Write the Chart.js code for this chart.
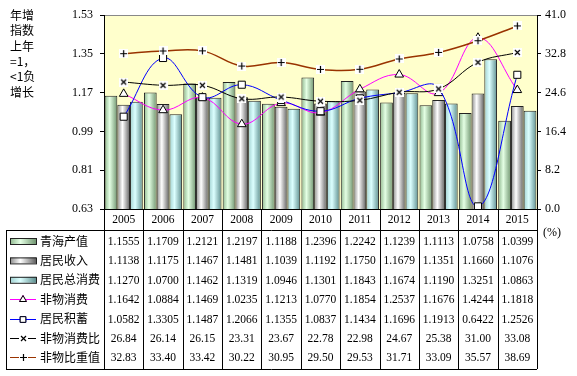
<!DOCTYPE html>
<html>
<head>
<meta charset="utf-8">
<script src="https://cdn.jsdelivr.net/npm/chart.js@4.4.0/dist/chart.umd.min.js"></script>
<style>
  html, body { margin: 0; padding: 0; background: #fff; }
  #wrap { width: 577px; height: 376px; }
</style>
</head>
<body>
<div id="wrap"><canvas id="chart" width="577" height="376"></canvas></div>
<script>
// data (table below the plot)
const years = ['2005', '2006', '2007', '2008', '2009', '2010', '2011', '2012', '2013', '2014', '2015'];
const qinghaiOutput = [1.1555, 1.1709, 1.2121, 1.2197, 1.1188, 1.2396, 1.2242, 1.1239, 1.1113, 1.0758, 1.0399];
const residentIncome = [1.1138, 1.1175, 1.1467, 1.1481, 1.1039, 1.1192, 1.1750, 1.1679, 1.1351, 1.1660, 1.1076];
const residentConsumption = [1.1270, 1.0700, 1.1462, 1.1319, 1.0946, 1.1301, 1.1843, 1.1674, 1.1190, 1.3251, 1.0863];
const nonMaterialConsumption = [1.1642, 1.0884, 1.1469, 1.0235, 1.1213, 1.0770, 1.1854, 1.2537, 1.1676, 1.4244, 1.1818];
const residentSavings = [1.0582, 1.3305, 1.1487, 1.2066, 1.1355, 1.0837, 1.1434, 1.1696, 1.1913, 0.6422, 1.2526];
const nonMaterialRatio = [26.84, 26.14, 26.15, 23.31, 23.67, 22.78, 22.98, 24.67, 25.38, 31.00, 33.08];
const nonMaterialShare = [32.83, 33.40, 33.42, 30.22, 30.95, 29.50, 29.53, 31.71, 33.09, 35.57, 38.69];

const leftTicks = [0.63, 0.81, 0.99, 1.17, 1.35, 1.53];
const rightTicks = [0, 8.2, 16.4, 24.6, 32.8, 41.0];
const axisNote = ['年增', '指数', '上年', '=1，', '<1负', '增长'];
const unitNote = '(%)';

const SERIF = '"Liberation Serif", "Times New Roman", serif';
const CJK = '"Noto Sans CJK SC", sans-serif';

// little white boxes with a black glyph, like the excel markers
function boxMarker(kind) {
  const c = document.createElement('canvas');
  c.width = 9; c.height = 9;
  const g = c.getContext('2d');
  g.fillStyle = '#fff';
  g.fillRect(0, 0, 9, 9);
  g.strokeStyle = '#000';
  g.lineWidth = 1.2;
  g.beginPath();
  if (kind === 'x') {
    g.moveTo(2, 2); g.lineTo(7, 7);
    g.moveTo(7, 2); g.lineTo(2, 7);
  } else {
    g.moveTo(4.5, 1); g.lineTo(4.5, 8);
    g.moveTo(1, 4.5); g.lineTo(8, 4.5);
  }
  g.stroke();
  return c;
}
const xMark = boxMarker('x');
const plusMark = boxMarker('+');

// cylinder-like shading for the bars
const barShades = {
  green: ['#8fb88f', '#e4ffe4', '#6f946f'],
  gray: ['#8a8a8a', '#ffffff', '#5f5f5f'],
  cyan: ['#9fcfcf', '#dcffff', '#5e8f8f']
};

const shadePlugin = {
  id: 'shade',
  beforeDatasetsDraw(chart) {
    const ctx = chart.ctx;
    chart.data.datasets.forEach((ds, i) => {
      if (!ds.shade) return;
      const s = barShades[ds.shade];
      chart.getDatasetMeta(i).data.forEach(el => {
        const g = ctx.createLinearGradient(el.x - el.width / 2, 0, el.x + el.width / 2, 0);
        g.addColorStop(0, s[0]);
        g.addColorStop(0.4, s[1]);
        g.addColorStop(1, s[2]);
        el.options = Object.assign({}, el.options, { backgroundColor: g });
      });
    });
  }
};

const plotBg = {
  id: 'plotBg',
  beforeDraw(chart) {
    const { ctx, chartArea: a } = chart;
    ctx.save();
    ctx.fillStyle = '#ffffcc';
    ctx.fillRect(a.left, a.top, a.right - a.left, a.bottom - a.top);
    ctx.strokeStyle = '#888';
    ctx.lineWidth = 1;
    ctx.beginPath();
    ctx.moveTo(a.left, a.top + 0.5);
    ctx.lineTo(a.right, a.top + 0.5);
    ctx.stroke();
    ctx.restore();
  }
};

// the data table under the plot, with its legend keys
const tablePlugin = {
  id: 'table',
  afterDraw(chart) {
    const { ctx, chartArea: a } = chart;
    const xs = chart.scales.x;
    const step = (a.right - a.left) / years.length;
    const top = 230, bottom = 369, rowH = 19.4, firstRow = 241;
    ctx.save();
    ctx.strokeStyle = '#000';
    ctx.lineWidth = 1;
    ctx.beginPath();
    ctx.moveTo(6, top + 0.5); ctx.lineTo(a.right, top + 0.5);
    ctx.moveTo(6, bottom + 0.5); ctx.lineTo(a.right, bottom + 0.5);
    ctx.moveTo(6.5, top); ctx.lineTo(6.5, bottom);
    for (let i = 0; i <= years.length; i++) {
      const x = Math.round(a.left + i * step) + 0.5;
      ctx.moveTo(x, a.bottom); ctx.lineTo(x, bottom);
    }
    ctx.stroke();

    chart.data.datasets.forEach((ds, r) => {
      const y = firstRow + r * rowH;
      // legend key
      if (ds.shade) {
        const s = barShades[ds.shade];
        const g = ctx.createLinearGradient(10, 0, 36, 0);
        g.addColorStop(0, s[0]); g.addColorStop(0.4, s[1]); g.addColorStop(1, s[2]);
        ctx.fillStyle = g;
        ctx.fillRect(10, y - 3, 26, 6);
        ctx.strokeStyle = '#222';
        ctx.strokeRect(10.5, y - 2.5, 26, 6);
      } else {
        ctx.strokeStyle = ds.borderColor;
        ctx.beginPath();
        ctx.moveTo(10, Math.round(y) + 0.5); ctx.lineTo(36, Math.round(y) + 0.5);
        ctx.stroke();
        if (ds.pointStyle instanceof HTMLCanvasElement) {
          ctx.drawImage(ds.pointStyle, 19, Math.round(y) - 4);
        } else {
          Chart.helpers.drawPoint(ctx, {
            pointStyle: ds.pointStyle, radius: 4, borderWidth: 1, rotation: 0
          }, 23, Math.round(y) + 0.5);
          ctx.fillStyle = '#fff';
          ctx.strokeStyle = '#000';
          ctx.fill(); ctx.stroke();
        }
      }
      ctx.fillStyle = '#000';
      ctx.font = '12px ' + CJK;
      ctx.textAlign = 'left';
      ctx.textBaseline = 'middle';
      ctx.fillText(ds.label, 40, y);
      // values
      ctx.font = '11.5px ' + SERIF;
      ctx.textAlign = 'center';
      ds.data.forEach((v, i) => {
        ctx.fillText(v.toFixed(ds.digits), xs.getPixelForValue(i), y + 1);
      });
    });

    // notes
    ctx.font = '12px ' + CJK;
    ctx.textAlign = 'left';
    axisNote.forEach((t, i) => ctx.fillText(t, 10, 15.5 + i * 15.3));
    ctx.font = '12px ' + SERIF;
    ctx.fillText(unitNote, 543, 233);
    ctx.restore();
  }
};

const lineBase = {
  type: 'line',
  borderWidth: 1,
  tension: 0.4,
  pointRadius: 4.5,
  pointBackgroundColor: '#fff',
  pointBorderColor: '#000',
  pointBorderWidth: 1,
  fill: false
};

new Chart(document.getElementById('chart'), {
  type: 'bar',
  data: {
    labels: years,
    datasets: [
      { type: 'bar', label: '青海产值', data: qinghaiOutput, shade: 'green', digits: 4,
        yAxisID: 'y', borderColor: '#222', borderWidth: 1, order: 10 },
      { type: 'bar', label: '居民收入', data: residentIncome, shade: 'gray', digits: 4,
        yAxisID: 'y', borderColor: '#222', borderWidth: 1, order: 10 },
      { type: 'bar', label: '居民总消费', data: residentConsumption, shade: 'cyan', digits: 4,
        yAxisID: 'y', borderColor: '#222', borderWidth: 1, order: 10 },
      Object.assign({}, lineBase, { label: '非物消费', data: nonMaterialConsumption, digits: 4,
        yAxisID: 'y', borderColor: '#ff00ff', pointStyle: 'triangle', pointRadius: 5, order: 4 }),
      Object.assign({}, lineBase, { label: '居民积蓄', data: residentSavings, digits: 4,
        yAxisID: 'y', borderColor: '#0000ff', pointStyle: 'rect', pointRadius: 5, order: 3 }),
      Object.assign({}, lineBase, { label: '非物消费比', data: nonMaterialRatio, digits: 2,
        yAxisID: 'y2', borderColor: '#000000', pointStyle: xMark, order: 2 }),
      Object.assign({}, lineBase, { label: '非物比重值', data: nonMaterialShare, digits: 2,
        yAxisID: 'y2', borderColor: '#993300', borderWidth: 1.5, pointStyle: plusMark, order: 1 })
    ]
  },
  options: {
    responsive: false,
    animation: false,
    layout: { padding: { top: 15, left: 0, right: 0, bottom: 0 } },
    datasets: { bar: { categoryPercentage: 0.97, barPercentage: 1 } },
    plugins: {
      legend: { display: false },
      tooltip: { enabled: false }
    },
    scales: {
      x: {
        offset: true,
        grid: { display: false, drawTicks: false },
        border: { display: true, color: '#000' },
        ticks: { color: '#000', font: { family: SERIF, size: 11.5 }, padding: 4, maxRotation: 0 },
        afterFit(s) { s.height = 167; }
      },
      y: {
        position: 'left',
        min: 0.63, max: 1.53,
        grid: { drawOnChartArea: false, color: '#000', tickLength: 4 },
        border: { display: true, color: '#000' },
        afterBuildTicks(s) { s.ticks = leftTicks.map(v => ({ value: v })); },
        ticks: { color: '#000', font: { family: SERIF, size: 12 }, padding: 7,
          callback: v => Number(v).toFixed(2) },
        afterFit(s) { s.width = 104; }
      },
      y2: {
        position: 'right',
        min: 0, max: 41,
        grid: { drawOnChartArea: false, color: '#000', tickLength: 4 },
        border: { display: true, color: '#000' },
        afterBuildTicks(s) { s.ticks = rightTicks.map(v => ({ value: v })); },
        ticks: { color: '#000', font: { family: SERIF, size: 12 }, padding: 4,
          callback: v => Number(v).toFixed(1) },
        afterFit(s) { s.width = 40; }
      }
    }
  },
  plugins: [plotBg, shadePlugin, tablePlugin]
});
</script>
</body>
</html>
